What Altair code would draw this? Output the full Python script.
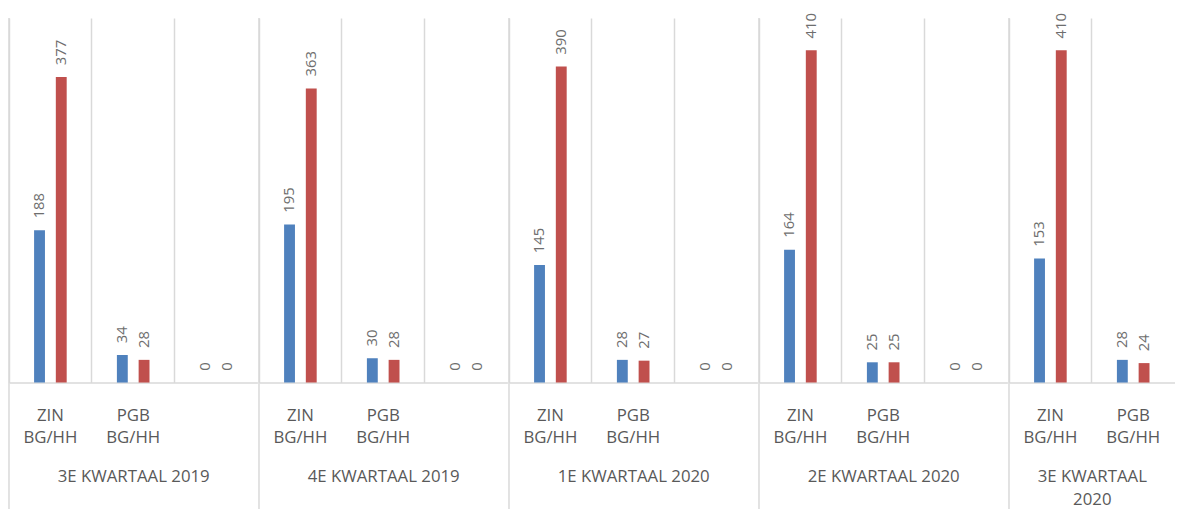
import altair as alt
import pandas as pd

# ---- data ----
quarters = ["3E KWARTAAL 2019", "4E KWARTAAL 2019", "1E KWARTAAL 2020",
            "2E KWARTAAL 2020", "3E KWARTAAL 2020"]
quarter_titles = [["3E KWARTAAL 2019"], ["4E KWARTAAL 2019"], ["1E KWARTAAL 2020"],
                  ["2E KWARTAAL 2020"], ["3E KWARTAAL", "2020"]]
categories = [["ZIN BG/HH", "PGB BG/HH", ""],
              ["ZIN BG/HH", "PGB BG/HH", ""],
              ["ZIN BG/HH", "PGB BG/HH", ""],
              ["ZIN BG/HH", "PGB BG/HH", ""],
              ["ZIN BG/HH", "PGB BG/HH"]]
series_names = ["Reeks1", "Reeks2"]
blue_values = [[188, 34, 0], [195, 30, 0], [145, 28, 0], [164, 25, 0], [153, 28]]
red_values = [[377, 28, 0], [363, 28, 0], [390, 27, 0], [410, 25, 0], [410, 24]]

# ---- style ----
BLUE = "#4f81bd"
RED = "#c0504d"
GRID = "#d9d9d9"
TEXT = "#595959"
VALTEXT = "#6e6e6e"
FONT = "Open Sans"
SLOT = 83.8
H = 369

panels = []
for qi, q in enumerate(quarters):
    cats = categories[qi]
    rows = []
    for ci, c in enumerate(cats):
        rows.append({"cat": c, "series": series_names[0], "value": blue_values[qi][ci]})
        rows.append({"cat": c, "series": series_names[1], "value": red_values[qi][ci]})
    df = pd.DataFrame(rows)

    x = alt.X("cat:N", sort=cats,
              scale=alt.Scale(paddingInner=0, paddingOuter=0),
              axis=alt.Axis(title=quarter_titles[qi],
                            labelExpr="split(datum.label, ' ')"))
    xoff = alt.XOffset("series:N", sort=series_names,
                       scale=alt.Scale(paddingInner=0.19, paddingOuter=1))
    y = alt.Y("value:Q", scale=alt.Scale(domain=[0, 450]), axis=None)

    base = alt.Chart(df).encode(x=x, xOffset=xoff, y=y)
    bars = base.mark_bar(width=11).encode(
        color=alt.Color("series:N", sort=series_names,
                        scale=alt.Scale(domain=series_names, range=[BLUE, RED]),
                        legend=None))
    labels = base.mark_text(angle=270, align="left", baseline="middle", dx=12,
                            fontSize=15, font=FONT, color=VALTEXT).encode(text="value:Q")
    divider = alt.Chart(pd.DataFrame({"q": [q]})).mark_rule(
        color=GRID, strokeWidth=1.5).encode(
        x=alt.value(0), y=alt.value(0), y2=alt.value(H + 130))
    panel = alt.layer(bars, labels, divider).properties(width=SLOT * len(cats), height=H)
    panels.append(panel)

chart = alt.hconcat(*panels, spacing=0).properties(
    padding={"left": 0, "top": 2, "right": 0, "bottom": 0}
).configure_view(stroke=None).configure_axisX(
    grid=True, gridColor=GRID, gridWidth=1.5, bandPosition=0,
    ticks=False, domainColor=GRID, domainWidth=1.5,
    labelAngle=0, labelFont=FONT, labelFontSize=17, labelColor=TEXT,
    labelPadding=25, labelLineHeight=23, labelLimit=0,
    titleFont=FONT, titleFontSize=17, titleFontWeight="normal", titleColor=TEXT,
    titlePadding=23, titleLineHeight=23,
)

chart.save("out.html", embed_options={"renderer": "svg", "actions": False})
